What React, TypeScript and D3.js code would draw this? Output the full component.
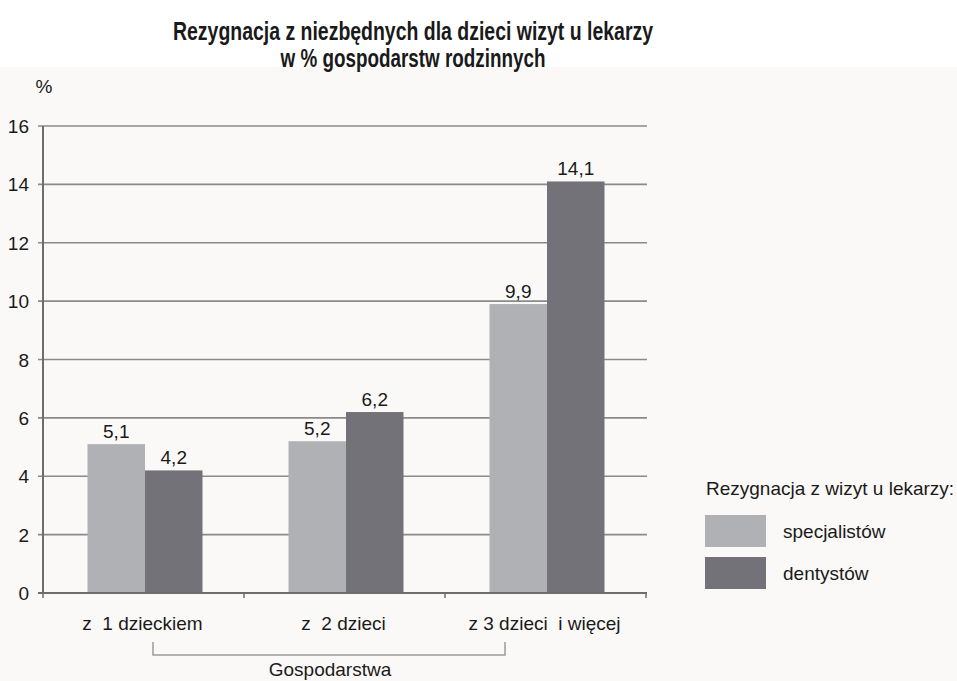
import React from "react";
import * as d3 from "d3";

const categories = ["z  1 dzieckiem", "z  2 dzieci", "z 3 dzieci  i więcej"];
const seriesNames = ["specjalistów", "dentystów"];
const specjalistow = [5.1, 5.2, 9.9];
const dentystow = [4.2, 6.2, 14.1];
const yTicks = [0, 2, 4, 6, 8, 10, 12, 14, 16];
const titleLines = ["Rezygnacja z niezbędnych dla dzieci wizyt u lekarzy", "w % gospodarstw rodzinnych"];
const legendTitle = "Rezygnacja z wizyt u lekarzy:";
const xTitle = "Gospodarstwa";
const yUnit = "%";

const colors = ["#afb1b4", "#737279"];
const W = 957;
const H = 681;
const FONT = "'Liberation Sans', Arial, sans-serif";
const NARROW = "'Liberation Sans Narrow', 'Arial Narrow', 'Liberation Sans', Arial, sans-serif";
const FS = 19;

export default function App() {
  const x = d3.scaleBand<string>().domain(categories).range([43, 646]).padding(0);
  const y = d3.scaleLinear().domain([0, 16]).range([593, 126]);
  const groupW = 115;
  const inner = d3.scaleBand<string>().domain(seriesNames).range([0, groupW]).padding(0);
  const series = [specjalistow, dentystow];
  const fmt = (v: number) => v.toFixed(1).replace(".", ",");
  const gx = (c: string) => (x(c) as number) + (x.bandwidth() - groupW) / 2 + 1.5;

  return (
    <div style={{ position: "absolute", left: 0, top: 0, width: W, height: H }}>
      <svg width={W} height={H} style={{ display: "block" }}>
        <rect x={0} y={0} width={W} height={H} fill="#faf9f7" />
        <rect x={0} y={0} width={W} height={67} fill="#ffffff" />
        {titleLines.map((t, i) => (
          <text
            key={i}
            x={413}
            y={40 + i * 27}
            textAnchor="middle"
            fontFamily={NARROW}
            fontWeight="bold"
            fontSize={25}
            fill="#1a1a1a"
            textLength={i === 0 ? 480 : 265}
            lengthAdjust="spacingAndGlyphs"
          >
            {t}
          </text>
        ))}
        <text x={44} y={93} textAnchor="middle" fontFamily={FONT} fontSize={FS} fill="#1a1a1a">
          {yUnit}
        </text>
        {yTicks.filter((t) => t > 0).map((t) => (
          <line key={"g" + t} x1={38} x2={647} y1={y(t)} y2={y(t)} stroke="#8a8a8a" strokeWidth={1.6} />
        ))}
        {yTicks.map((t) => (
          <text key={"t" + t} x={29} y={y(t) + 7} textAnchor="end" fontFamily={FONT} fontSize={FS} fill="#1a1a1a">
            {t}
          </text>
        ))}
        {categories.map((c, ci) =>
          seriesNames.map((s, si) => {
            const v = series[si][ci];
            const bx = gx(c) + (inner(s) as number);
            return (
              <g key={c + s}>
                <rect x={bx} y={y(v)} width={inner.bandwidth()} height={y(0) - y(v)} fill={colors[si]} />
                <text
                  x={bx + inner.bandwidth() / 2}
                  y={y(v) - 6}
                  textAnchor="middle"
                  fontFamily={FONT}
                  fontSize={FS}
                  fill="#1a1a1a"
                >
                  {fmt(v)}
                </text>
              </g>
            );
          })
        )}
        <line x1={43} x2={43} y1={126} y2={594} stroke="#6d6d6d" strokeWidth={2} />
        <line x1={38} x2={647} y1={593} y2={593} stroke="#6d6d6d" strokeWidth={2} />
        {[...categories.map((c) => x(c) as number), 646].map((tx, i) => (
          <line key={"xt" + i} x1={tx} x2={tx} y1={593} y2={598} stroke="#6d6d6d" strokeWidth={1.5} />
        ))}
        {categories.map((c) => (
          <text
            key={"c" + c}
            x={(x(c) as number) + x.bandwidth() / 2 - 1}
            y={630}
            textAnchor="middle"
            fontFamily={FONT}
            fontSize={FS}
            fill="#1a1a1a"
            style={{ whiteSpace: "pre" }}
          >
            {c}
          </text>
        ))}
        <path d="M153,642 V655 H505 V642" fill="none" stroke="#9a9a9a" strokeWidth={1.5} />
        <text x={330} y={676} textAnchor="middle" fontFamily={FONT} fontSize={FS} fill="#1a1a1a">
          {xTitle}
        </text>
        <text x={706} y={495} fontFamily={FONT} fontSize={FS} fill="#1a1a1a">
          {legendTitle}
        </text>
        {seriesNames.map((s, i) => (
          <g key={"l" + s}>
            <rect x={705} y={515 + i * 42} width={61} height={32} fill={colors[i]} />
            <text x={783} y={538 + i * 42} fontFamily={FONT} fontSize={FS} fill="#1a1a1a">
              {s}
            </text>
          </g>
        ))}
      </svg>
    </div>
  );
}
